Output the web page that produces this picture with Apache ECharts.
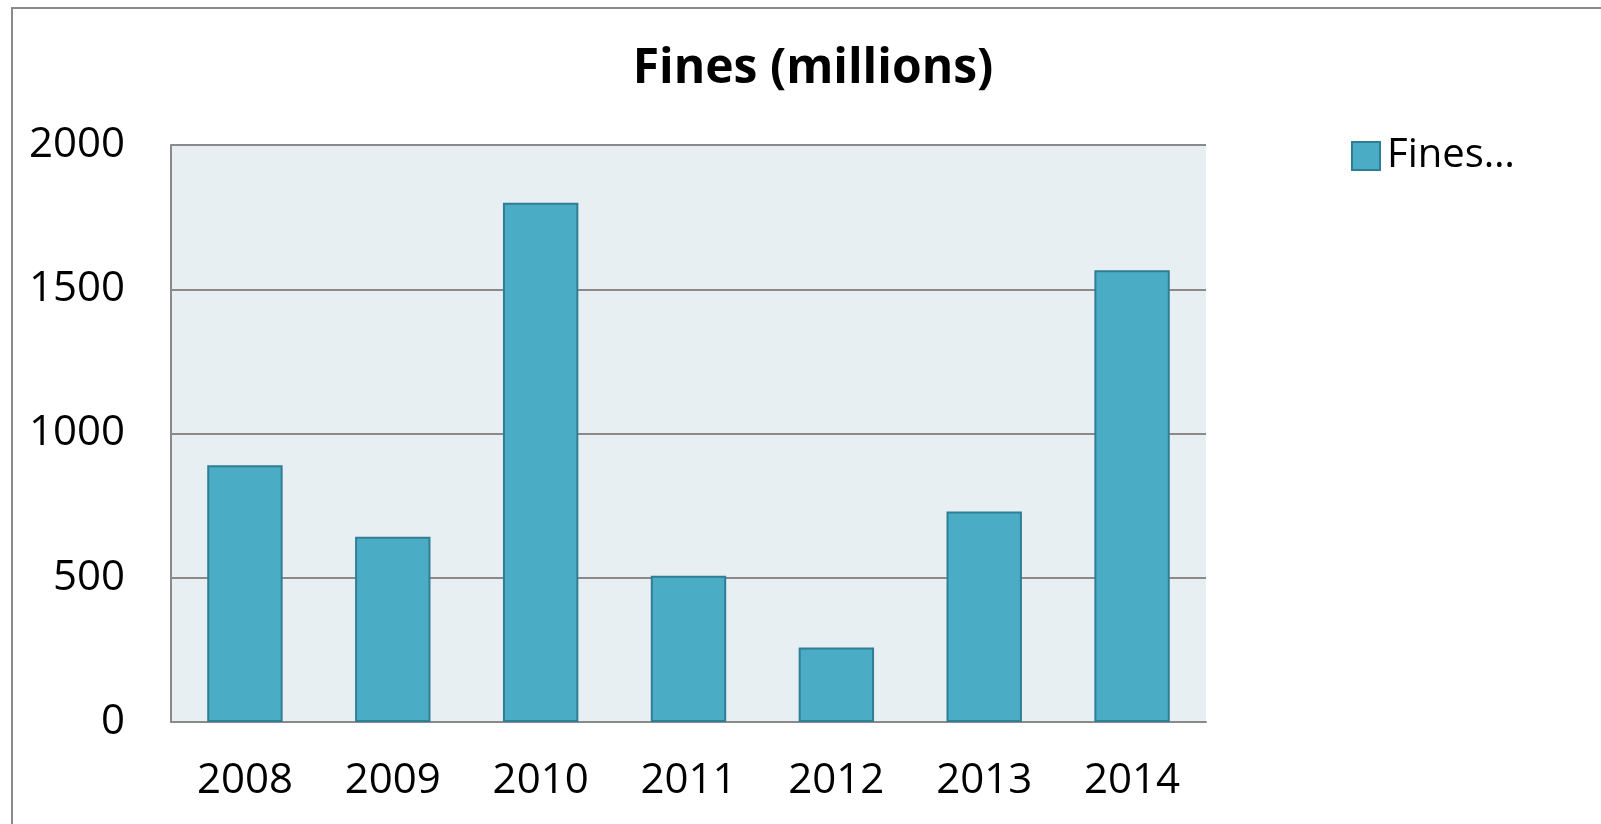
<!DOCTYPE html>
<html>
<head>
<meta charset="utf-8">
<script src="https://cdn.jsdelivr.net/npm/echarts@6/dist/echarts.min.js"></script>
<style>
  html, body { margin: 0; padding: 0; background: #fff; }
  #chart { width: 1601px; height: 824px; }
</style>
</head>
<body>
<div id="chart"></div>
<script>
const years = ['2008', '2009', '2010', '2011', '2012', '2013', '2014'];
const fines = [890, 642, 1800, 507, 258, 730, 1566];
const yTicks = [0, 500, 1000, 1500, 2000];

const font = 'Open Sans';
const gray = '#8a8a8a';

const chart = echarts.init(document.getElementById('chart'));

const option = {
  backgroundColor: '#fff',
  animation: false,
  graphic: [{
    type: 'rect',
    shape: { x: 12, y: 8, width: 1620, height: 900 },
    style: { fill: 'none', stroke: gray, lineWidth: 2 },
    silent: true
  }],
  title: {
    text: 'Fines (millions)',
    left: 808,
    top: 40,
    textAlign: 'center',
    textStyle: { fontFamily: font, fontWeight: 'bold', fontSize: 48, color: '#000' }
  },
  legend: {
    left: 1346,
    top: 131,
    itemWidth: 28,
    itemHeight: 28,
    icon: 'rect',
    formatter: () => 'Fines…',
    textStyle: { fontFamily: font, fontSize: 40, color: '#000', padding: [0, 0, 0, 2] }
  },
  grid: {
    left: 171,
    top: 145,
    right: 395,
    bottom: 102,
    show: true,
    backgroundColor: '#e8eff3',
    borderWidth: 0
  },
  xAxis: {
    type: 'category',
    data: years,
    axisLine: { lineStyle: { color: gray, width: 2 } },
    axisTick: { show: false },
    axisLabel: { fontFamily: font, fontSize: 42, color: '#000', margin: 38 }
  },
  yAxis: {
    type: 'value',
    min: yTicks[0],
    max: yTicks[yTicks.length - 1],
    interval: 500,
    axisLine: { show: true, lineStyle: { color: gray, width: 2 } },
    axisTick: { show: false },
    splitLine: { lineStyle: { color: gray, width: 2 } },
    axisLabel: {
      fontFamily: font, fontSize: 42, color: '#000', margin: 46,
      formatter: v => String(v)
    }
  },
  series: [{
    name: 'Fines (millions)',
    type: 'bar',
    data: fines,
    barWidth: '51%',
    itemStyle: { color: '#4bacc6', borderColor: '#2f7e95', borderWidth: 2 }
  }]
};

chart.setOption(option);
</script>
</body>
</html>
